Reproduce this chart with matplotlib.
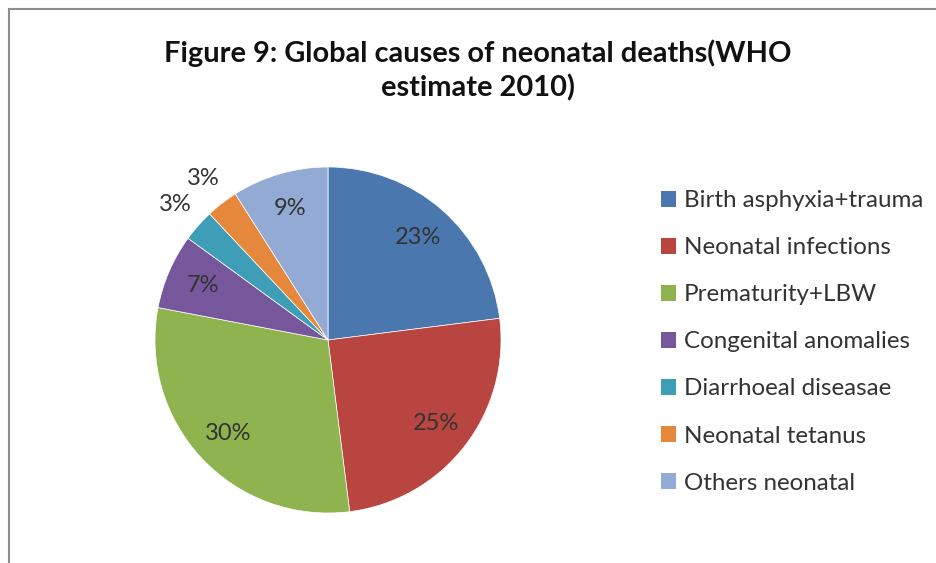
import numpy as np
import matplotlib
matplotlib.use("Agg")
import matplotlib.pyplot as plt
from matplotlib.patches import Patch
from matplotlib.lines import Line2D

causes = ["Birth asphyxia+trauma", "Neonatal infections", "Prematurity+LBW",
          "Congenital anomalies", "Diarrhoeal diseasae", "Neonatal tetanus",
          "Others neonatal"]
shares = [23, 25, 30, 7, 3, 3, 9]
colors = ["#4A77AE", "#B8453F", "#8FB34F", "#77579C", "#3E9EB7", "#E5883C", "#93ABD4"]
title = "Figure 9: Global causes of neonatal deaths(WHO\nestimate 2010)"

plt.rcParams['font.family'] = ['Lato', 'DejaVu Sans']

fig = plt.figure(figsize=(9.37, 5.63), dpi=100)

# frame lines (left and top only)
fig.add_artist(Line2D([9/937, 9/937], [0, 1 - 9/563], color="#8c8c8c", lw=1.5, transform=fig.transFigure))
fig.add_artist(Line2D([9/937, 1], [1 - 9/563, 1 - 9/563], color="#8c8c8c", lw=1.5, transform=fig.transFigure))

ax = fig.add_axes([0.1654, 0.0888, 0.3693, 0.6146])
wedges, texts, autotexts = ax.pie(shares, colors=colors, startangle=90, counterclock=False,
                                  radius=1, autopct="%d%%", pctdistance=0.79,
                                  wedgeprops=dict(linewidth=0.5, edgecolor="white"),
                                  textprops=dict(fontsize=17, color="#333333"))
ax.set_xlim(-1, 1)
ax.set_ylim(-1, 1)
ax.set_aspect("equal")

# small slices get their labels outside
for w, t, v in zip(wedges, autotexts, shares):
    if v <= 3:
        ang = np.deg2rad((w.theta1 + w.theta2) / 2)
        t.set_position((1.18 * np.cos(ang), 1.18 * np.sin(ang)))

fig.text(0.51, 0.875, title, ha="center", va="center", fontsize=20.9,
         fontweight="bold", color="#111111", linespacing=1.33)

handles = [Patch(facecolor=c, edgecolor="none") for c in colors]
fig.legend(handles, causes, loc="upper left", bbox_to_anchor=(0.682, 0.701),
           frameon=False, fontsize=17.4, handlelength=0.65, handleheight=0.65,
           handletextpad=0.3, labelspacing=1.08, labelcolor="#333333")

fig.savefig("out.png", dpi=100)
